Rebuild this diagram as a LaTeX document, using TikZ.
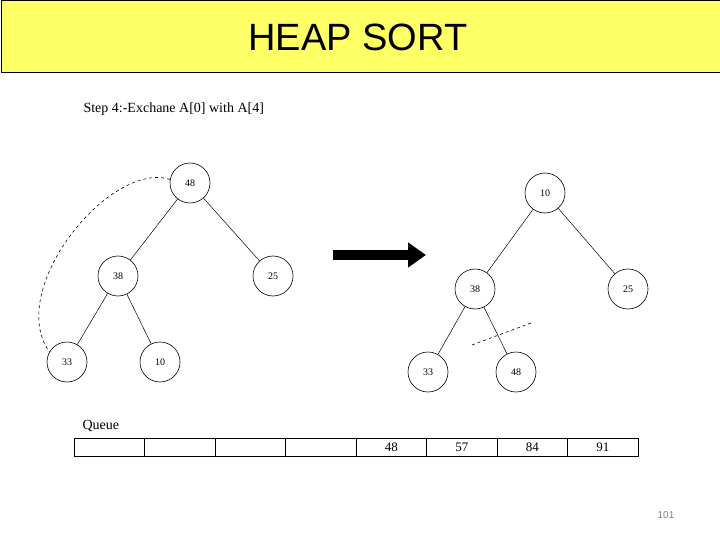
\documentclass[tikz,border=0pt]{standalone}
\usepackage{fontspec}
\setmainfont{Liberation Serif}
\newfontfamily\hsans{Liberation Sans}
\usetikzlibrary{arrows.meta}
\definecolor{ttl}{RGB}{255,255,102}
\begin{document}
\begin{tikzpicture}[x=1pt,y=-1pt,
  nd/.style={circle,draw,line width=0.6pt,minimum size=40pt,inner sep=0pt,font=\fontsize{10}{10}\selectfont},
  ed/.style={line width=0.5pt},
  cell/.style={draw,line width=0.5pt,minimum width=70.5pt,minimum height=18pt,inner sep=0pt,font=\fontsize{13}{13}\selectfont}]
\useasboundingbox (0,0) rectangle (720,540);
\fill[white] (0,0) rectangle (720,540);
\node[draw,fill=ttl,line width=0.8pt,minimum width=719pt,minimum height=72pt,inner sep=0pt,anchor=north west] (bar) at (0.5,0.5) {};
\node[font=\hsans\fontsize{38}{38}\selectfont] (title) at (358,37) {HEAP SORT};
\node[anchor=west,font=\fontsize{14}{14}\selectfont] (step) at (80,109) {Step 4:-Exchane A[0] with A[4]};
% left tree
\node[nd] (a) at (190,183) {48};
\node[nd] (b) at (118,276) {38};
\node[nd] (c) at (273,276) {25};
\node[nd] (d) at (67,362) {33};
\node[nd] (e) at (160,362) {10};
\draw[ed] (a)--(b); \draw[ed] (a)--(c); \draw[ed] (b)--(d); \draw[ed] (b)--(e);
\draw[dashed,line width=0.6pt] (a.170) .. controls (110,160) and (5,290) .. (d.150);
% arrow
\coordinate (p1) at (333,255); \coordinate (p2) at (426,255);
\draw[line width=10pt,-{Triangle[length=18pt,width=24pt]}] (p1)--(p2);
% right tree
\node[nd] (f) at (545,193) {10};
\node[nd] (g) at (475,289) {38};
\node[nd] (h) at (628,289) {25};
\node[nd] (i) at (428,372) {33};
\node[nd] (j) at (516,372) {48};
\draw[ed] (f)--(g); \draw[ed] (f)--(h); \draw[ed] (g)--(i); \draw[ed] (g)--(j);
\coordinate (k1) at (472,345); \coordinate (k2) at (531,323);
\draw[dashed,line width=0.6pt] (k1)--(k2);
% queue
\node[anchor=west,font=\fontsize{14}{14}\selectfont] (q) at (79,426) {Queue};
\foreach \n/\t in {1/,2/,3/,4/,5/48,6/57,7/84,8/91}{
  \node[cell] (c\n) at ({74+70.5*(\n-0.5)},447) {\t};
}
\node[font=\hsans\fontsize{10}{10}\selectfont,text=gray] (pg) at (666,515) {101};
\end{tikzpicture}
\end{document}
